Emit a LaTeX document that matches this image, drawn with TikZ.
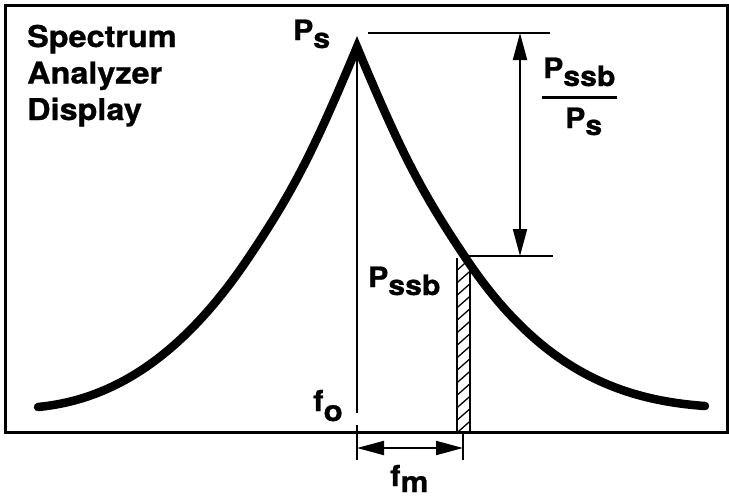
\documentclass[tikz,border=0pt]{standalone}
\usepackage{fontspec}
\setmainfont{TeX Gyre Heros}[FakeStretch=1.08,BoldFeatures={FakeBold=0.8}]
\usetikzlibrary{arrows.meta}
\newcommand\lowsub[3]{#1\raisebox{-#3pt}{#2}}
\begin{document}
\begin{tikzpicture}[x=1pt,y=-1pt,
  lbl/.style={anchor=base west, inner sep=0pt, font=\bfseries\fontsize{28}{28}\selectfont},
  flbl/.style={anchor=base west, inner sep=0pt, font=\bfseries\fontsize{29}{29}\selectfont},
  ttl/.style={anchor=base west, inner sep=0pt, font=\bfseries\fontsize{30}{30}\selectfont},
  dimarrow/.style={line width=2pt, {Triangle[length=27pt,width=14pt]}-{Triangle[length=27pt,width=14pt]}},
  guide/.style={line width=2.5pt},
  thinline/.style={line width=1.8pt},
  frame/.style={line width=3pt},
  spectrum/.style={line width=8.5pt, line cap=round, line join=miter}]
\useasboundingbox (0,0) rectangle (729,499);

% frame
\draw[frame] (5,5) rectangle (727,432);

% title
\node[ttl] (t1) at (27,47) {Spectrum};
\node[ttl] (t2) at (27,83.5) {Analyzer};
\node[ttl] (t3) at (27,120) {Display};

% key points
\coordinate (peak) at (357,47);
\coordinate (fobot) at (357,413);
\coordinate (fotop2) at (357,425);
\coordinate (lefttick) at (357,460);
\coordinate (righttickT) at (463,432);
\coordinate (righttick) at (463,460);
\coordinate (la) at (357,448);
\coordinate (ra) at (463,448);
\coordinate (topL) at (368,33);
\coordinate (topR) at (550,33);
\coordinate (lowL) at (463,256);
\coordinate (lowR) at (553,256);
\coordinate (arrT) at (520,33);
\coordinate (arrB) at (520,256);

% thin vertical line at f0
\draw[thinline] (peak) -- (fobot);
\draw[thinline] (fotop2) -- (lefttick);
\draw[thinline] (righttickT) -- (righttick);

% hatched sideband
\begin{scope}
  \clip (457,258) rectangle (470,432);
  \foreach \k in {0,...,15} \draw[line width=1.3pt] (455,272+\k*12.5) -- (472,257+\k*12.5);
\end{scope}
\draw[line width=1.6pt] (457,432) -- (457,258);
\draw[line width=2.8pt] (470,432) -- (470,262);

% reference lines
\draw[guide] (topL) -- (topR);
\draw[guide] (lowL) -- (lowR);
\draw[dimarrow] (arrT) -- (arrB);
\draw[dimarrow] (la) -- (ra);

% spectrum curve
\draw[spectrum] (38,407) .. controls (110,400) and (180,360) .. (249,257)
  .. controls (294,190) and (314,150) .. (peak)
  .. controls (400,150) and (420,190) .. (465,257)
  .. controls (540,370) and (620,400) .. (705,406);

% labels
\node[lbl] (ps) at (293,40) {\lowsub{P}{s}{8}};
\node[lbl] (pssb) at (368,287) {\lowsub{P}{ssb}{8}};
\node[lbl] (num) at (543,78) {\lowsub{P}{ssb}{8}};
\coordinate (barL) at (542,97);
\coordinate (barR) at (617,97);
\draw[line width=3pt] (barL) -- (barR);
\node[lbl] (den) at (565,128) {\lowsub{P}{s}{7}};
\node[flbl] (fo) at (313,411) {\lowsub{f}{o}{10}};
\node[flbl] (fm) at (390,486) {\lowsub{f}{m}{6}};
\end{tikzpicture}
\end{document}
